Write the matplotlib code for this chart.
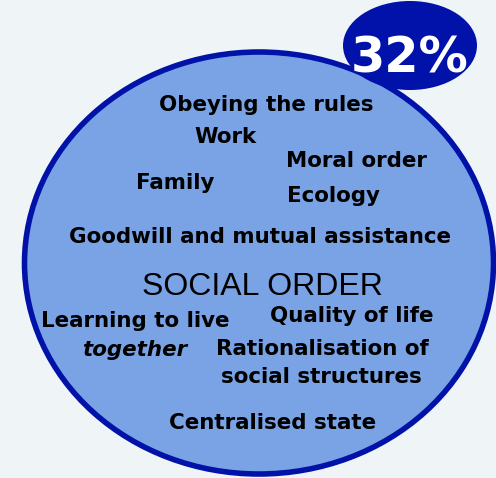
import matplotlib.pyplot as plt
from matplotlib.patches import Ellipse

# chart content
title = 'SOCIAL ORDER'
share = '32%'
labels = ['Obeying the rules', 'Work', 'Moral order', 'Family', 'Ecology',
          'Goodwill and mutual assistance', 'Quality of life',
          'Learning to live', 'Rationalisation of', 'social structures',
          'Centralised state']
italic_label = 'together'

# layout (pixel coords, y down): centre x, baseline y
label_x = [266, 225, 356, 175, 333, 260, 352, 135, 322, 321, 273]
label_y = [111, 143, 167, 189, 202, 243, 322, 327, 355, 383, 429]

fig = plt.figure(figsize=(4.96, 4.78), dpi=100)
fig.patch.set_facecolor('#eff4f6')
ax = fig.add_axes([0, 0, 1, 1])
ax.set_xlim(0, 496)
ax.set_ylim(478, 0)
ax.axis('off')

# big circle
ax.add_patch(Ellipse((259, 263), 469, 422, facecolor='#7aa3e5',
                     edgecolor='#0012a8', linewidth=4, zorder=1))

# percentage badge
ax.add_patch(Ellipse((410, 45.5), 134, 89, facecolor='#0012aa',
                     edgecolor='none', zorder=2))
ax.text(410, 72, share, color='white', fontsize=35.5, fontweight='heavy',
        family='DejaVu Sans', ha='center', va='baseline', zorder=3)

for lab, x, y in zip(labels, label_x, label_y):
    ax.text(x, y, lab, fontsize=15.4, fontweight='bold', family='DejaVu Sans',
            ha='center', va='baseline', color='black', zorder=3)

ax.text(135, 356, italic_label, fontsize=15.4, fontweight='bold', style='italic',
        family='DejaVu Sans', ha='center', va='baseline', zorder=3)

ax.text(262, 295, title, fontsize=23, family='Liberation Sans',
        ha='center', va='baseline', zorder=3)

fig.savefig('out.png', dpi=100, facecolor=fig.get_facecolor())
